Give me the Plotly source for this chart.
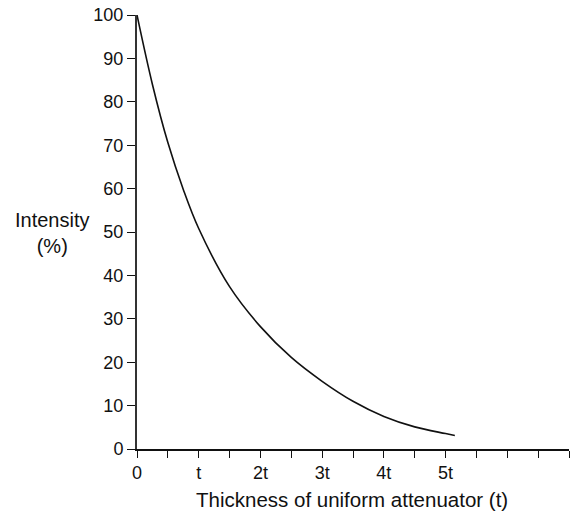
import plotly.graph_objects as go

# Curve readings (thickness in units of t, intensity in %)
thickness = [0, 0.25, 0.5, 0.75, 1, 1.5, 2, 2.5, 3, 3.5, 4, 4.5, 5, 5.15]
intensity = [100, 84.0, 70.6, 59.8, 50.8, 37.4, 28.2, 21.1, 15.6, 11.0, 7.5, 5.1, 3.55, 3.1]

x_tick_vals = [0, 0.5, 1, 1.5, 2, 2.5, 3, 3.5, 4, 4.5, 5, 5.5, 6, 6.5, 7]
x_tick_text = ["0", "", "t", "", "2t", "", "3t", "", "4t", "", "5t", "", "", "", ""]
y_tick_vals = [0, 10, 20, 30, 40, 50, 60, 70, 80, 90, 100]

FONT = "Liberation Sans, Arial, sans-serif"

fig = go.Figure()
fig.add_trace(go.Scatter(
    x=thickness, y=intensity, mode="lines",
    line=dict(color="#111111", width=1.6, shape="spline", smoothing=1.0),
    cliponaxis=False, showlegend=False, hoverinfo="skip",
))

fig.update_layout(
    width=575, height=514,
    margin=dict(l=137, r=6, t=15, b=65, autoexpand=False),
    paper_bgcolor="white", plot_bgcolor="white",
    font=dict(family=FONT, size=18, color="#111111"),
    showlegend=False,
    xaxis=dict(
        range=[0, 7], tickmode="array", tickvals=x_tick_vals, ticktext=x_tick_text,
        ticks="outside", ticklen=7, tickwidth=1.2, tickcolor="#111111",
        showline=True, linecolor="#111111", linewidth=1.5,
        showgrid=False, zeroline=False, fixedrange=True, automargin=False,
        tickfont=dict(family=FONT, size=18, color="#111111"),
    ),
    yaxis=dict(
        range=[0, 100], tickmode="array", tickvals=y_tick_vals,
        ticks="outside", ticklen=8, tickwidth=1.2, tickcolor="#111111",
        showline=True, linecolor="#333333", linewidth=2,
        showgrid=False, zeroline=False, fixedrange=True, automargin=False,
        tickfont=dict(family=FONT, size=18, color="#111111"),
    ),
    annotations=[
        dict(text="Intensity<br>(%)", xref="paper", yref="paper",
             x=-0.197, y=0.497, xanchor="center", yanchor="middle",
             showarrow=False, align="center",
             font=dict(family=FONT, size=20, color="#111111")),
        dict(text="Thickness of uniform attenuator (t)", xref="paper", yref="paper",
             x=0.498, y=-0.1175, xanchor="center", yanchor="middle",
             showarrow=False,
             font=dict(family=FONT, size=20.5, color="#111111")),
    ],
)

fig.write_html("out.html")
